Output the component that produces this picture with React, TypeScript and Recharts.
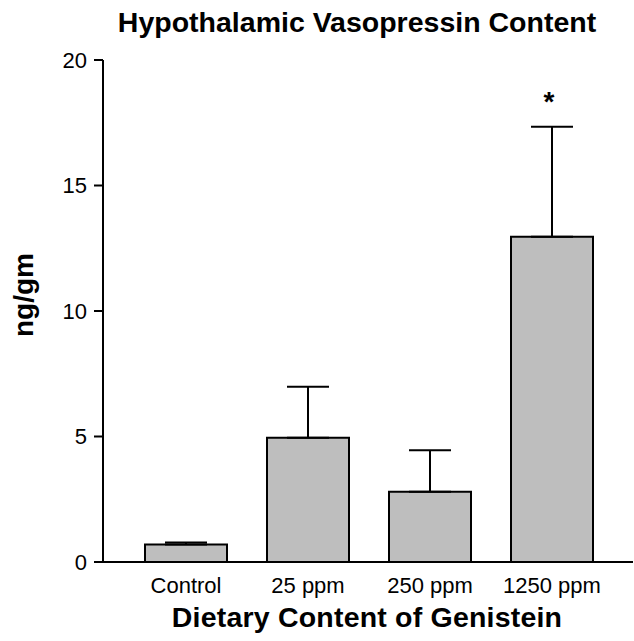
import React from 'react';
import { ComposedChart, Bar, ErrorBar, Scatter, XAxis, YAxis, Label } from 'recharts';

const groups = ['Control', '25 ppm', '250 ppm', '1250 ppm'];
const means = [0.7, 4.95, 2.8, 12.96];
const sem = [0.08, 2.03, 1.65, 4.38];
const significant = [false, false, false, true];
const yTicks = [0, 5, 10, 15, 20];

const FONT = '"Liberation Sans", Arial, Helvetica, sans-serif';

const data = groups.map((name, i) => ({
  name,
  mean: means[i],
  err: [0, sem[i]],
  star: significant[i] ? means[i] + sem[i] : null,
}));

const StarMark = (props: any) => {
  const { cx, cy } = props;
  if (cx == null || cy == null || props.payload?.star == null) return null;
  return (
    <text x={cx - 3} y={cy - 16} textAnchor="middle" fontFamily={FONT} fontWeight="bold" fontSize={28} fill="#000">
      *
    </text>
  );
};

const App: React.FC = () => {
  return (
    <div style={{ position: 'absolute', left: 0, top: 0, width: 634, height: 641, background: '#fff' }}>
      <div
        style={{
          position: 'absolute',
          left: 357,
          top: 6,
          transform: 'translateX(-50%)',
          whiteSpace: 'nowrap',
          fontFamily: FONT,
          fontWeight: 'bold',
          fontSize: 28.5,
          lineHeight: '32px',
          color: '#000',
        }}
      >
        Hypothalamic Vasopressin Content
      </div>
      <ComposedChart width={634} height={641} data={data} margin={{ top: 60, right: 1, left: 0, bottom: 0 }}>
        <XAxis
          dataKey="name"
          height={79}
          padding={{ left: 22, right: 20 }}
          axisLine={{ stroke: '#000', strokeWidth: 2 }}
          tickLine={false}
          tickSize={0}
          tickMargin={15}
          tick={{ fill: '#000', fontSize: 22, fontFamily: FONT }}
          interval={0}
        >
          <Label
            content={() => (
              <text
                x={367}
                y={627}
                textAnchor="middle"
                fontFamily={FONT}
                fontWeight="bold"
                fontSize={28.5}
                letterSpacing={0.2}
                fill="#000"
              >
                Dietary Content of Genistein
              </text>
            )}
          />
        </XAxis>
        <YAxis
          width={103}
          domain={[0, 20]}
          ticks={yTicks}
          interval={0}
          axisLine={{ stroke: '#000', strokeWidth: 2 }}
          tickLine={{ stroke: '#000', strokeWidth: 2 }}
          tickSize={9}
          tickMargin={7}
          tick={{ fill: '#000', fontSize: 22, fontFamily: FONT }}
        >
          <Label
            content={() => (
              <text
                x={33}
                y={295}
                transform="rotate(-90, 33, 295)"
                textAnchor="middle"
                fontFamily={FONT}
                fontWeight="bold"
                fontSize={28}
                fill="#000"
              >
                ng/gm
              </text>
            )}
          />
        </YAxis>
        <Bar dataKey="mean" barSize={82} fill="#bebebe" stroke="#000" strokeWidth={2} isAnimationActive={false}>
          <ErrorBar dataKey="err" width={21} stroke="#000" strokeWidth={2} direction="y" />
        </Bar>
        <Scatter dataKey="star" shape={<StarMark />} isAnimationActive={false} />
      </ComposedChart>
    </div>
  );
};

export default App;
